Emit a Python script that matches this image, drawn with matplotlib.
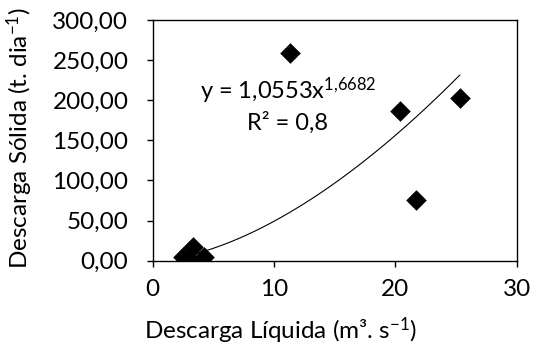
import numpy as np
import matplotlib
matplotlib.use("Agg")
import matplotlib.pyplot as plt

# Data
q_liquida = [2.5, 3.0, 3.35, 4.2, 11.3, 20.4, 21.7, 25.3]
q_solida = [5.0, 1.5, 17.5, 5.0, 258.5, 186.5, 75.5, 202.5]
coef_a = 1.0553
coef_b = 1.6682
x_ticks = [0, 10, 20, 30]
y_ticks = [0, 50, 100, 150, 200, 250, 300]
y_tick_labels = ["0,00", "50,00", "100,00", "150,00", "200,00", "250,00", "300,00"]

plt.rcParams['font.family'] = ['Lato', 'DejaVu Sans']
plt.rcParams['mathtext.fontset'] = 'custom'
plt.rcParams['mathtext.rm'] = 'Lato'
plt.rcParams['mathtext.it'] = 'Lato'
plt.rcParams['mathtext.default'] = 'regular'
FS = 17.5

W, H = 536, 347
fig = plt.figure(figsize=(W / 100, H / 100), dpi=100)
ax = fig.add_axes([152.7 / W, 1 - 260.7 / H, 364 / W, 240.7 / H])

ax.scatter(q_liquida, q_solida, marker='D', s=10.5**2, color='black', zorder=3, linewidths=0)
xs = np.linspace(min(q_liquida), max(q_liquida), 200)
ax.plot(xs, coef_a * xs ** coef_b, color='black', lw=0.8, zorder=2)

ax.set_xlim(0, 30)
ax.set_ylim(0, 300)
ax.set_xticks(x_ticks)
ax.set_xticklabels([str(t) for t in x_ticks], fontsize=FS)
ax.set_yticks(y_ticks)
ax.set_yticklabels(y_tick_labels, fontsize=FS)
ax.tick_params(axis='both', direction='out', length=4.5, width=1, color='black')
ax.tick_params(axis='y', pad=13)
ax.tick_params(axis='x', pad=9)
for sp in ax.spines.values():
    sp.set_linewidth(1.0)
    sp.set_color('black')

fig.text(280 / W, 1 - 331 / H, "Descarga Líquida (m³. s$^{-1}$)", fontsize=FS,
         ha='center', va='center')
fig.text(20 / W, 1 - 138 / H, "Descarga Sólida (t. dia$^{-1}$)", fontsize=FS,
         ha='center', va='center', rotation=90)

ax.text(11.15, 212, "y = 1,0553x$^{1{,}6682}$", fontsize=17, ha='center', va='center')
ax.text(11.15, 172, "R² = 0,8", fontsize=17, ha='center', va='center')

fig.savefig("out.png", dpi=100)
